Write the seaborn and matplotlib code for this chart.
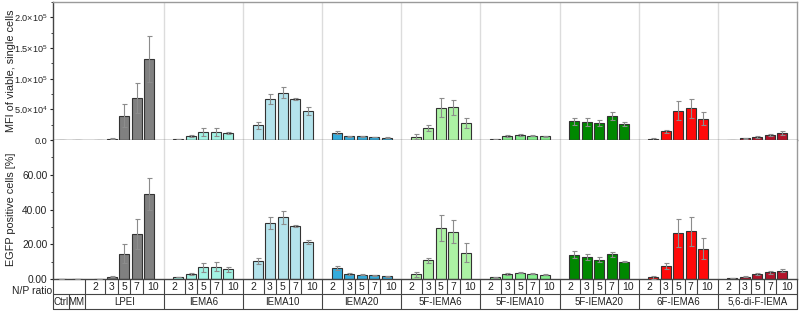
import numpy as np
import pandas as pd
import matplotlib
matplotlib.use("Agg")
import matplotlib.pyplot as plt
import seaborn as sns
from matplotlib.ticker import FixedLocator, MultipleLocator

# ---- data ----
controls = ["Ctrl", "MM"]
groups = ["LPEI", "IEMA6", "IEMA10", "IEMA20", "5F-IEMA6",
          "5F-IEMA10", "5F-IEMA20", "6F-IEMA6", "5,6-di-F-IEMA"]
np_ratios = ["2", "3", "5", "7", "10"]

group_colors = ["#808080", "#a3f3e4", "#b4e3ec", "#35acdc", "#acf2a4",
                "#84ee8c", "#008800", "#ff0a0a", "#b3142a"]
control_colors = ["#808080", "#808080"]

mfi_ctrl = [300, 300]
mfi_ctrl_err = [100, 100]
mfi_mean = [
    [500, 2000, 39600, 68400, 131900],
    [1100, 6500, 13000, 13300, 10900],
    [23900, 66800, 77100, 67300, 47200],
    [11900, 6500, 6000, 4900, 3800],
    [5400, 19500, 52700, 53200, 28200],
    [1100, 6000, 8100, 7100, 6000],
    [30400, 29900, 27700, 39100, 26100],
    [1600, 14100, 47800, 51600, 34800],
    [500, 2700, 4900, 8700, 10900],
]
mfi_err = [
    [200, 500, 18700, 25000, 38000],
    [300, 1000, 7000, 6500, 1500],
    [5400, 8400, 8700, 1500, 6500],
    [2200, 800, 600, 600, 500],
    [4300, 5400, 15000, 12000, 8100],
    [400, 1600, 1000, 800, 600],
    [5400, 6500, 5200, 7300, 3300],
    [1500, 2700, 15500, 15500, 11000],
    [200, 500, 1000, 1500, 3300],
]

egfp_ctrl = [0.3, 0.3]
egfp_ctrl_err = [0.05, 0.05]
egfp_mean = [
    [0.2, 1.5, 14.8, 25.9, 49.1],
    [1.3, 3.1, 6.9, 7.3, 5.8],
    [10.4, 32.3, 35.6, 30.6, 21.5],
    [6.5, 3.1, 2.7, 2.3, 1.7],
    [2.9, 10.8, 29.4, 27.3, 15.2],
    [1.2, 3.1, 3.7, 3.3, 2.7],
    [14.2, 12.9, 11.2, 14.4, 10.2],
    [1.2, 7.9, 26.7, 27.5, 17.5],
    [0.6, 1.5, 2.9, 4.0, 5.0],
]
egfp_err = [
    [0.1, 0.4, 5.5, 8.6, 9.1],
    [0.2, 0.4, 2.7, 2.6, 1.5],
    [1.9, 3.5, 3.8, 0.8, 1.3],
    [1.2, 0.4, 0.3, 0.3, 0.3],
    [1.5, 1.5, 7.5, 6.7, 5.4],
    [0.2, 0.8, 0.3, 0.3, 0.3],
    [1.9, 1.7, 1.5, 1.5, 0.4],
    [0.8, 1.7, 7.9, 8.3, 6.0],
    [0.1, 0.3, 0.6, 0.8, 0.8],
]

mfi_ticks = [0, 5e4, 1e5, 1.5e5, 2e5]
mfi_ticklabels = ["0.0", "5.0×10$^{4}$", "1.0×10$^{5}$",
                  "1.5×10$^{5}$", "2.0×10$^{5}$"]
egfp_ticks = [0, 20, 40, 60]
egfp_ticklabels = ["0.00", "20.00", "40.00", "60.00"]

# ---- layout ----
BAR_STEP = 0.79      # spacing of bars inside a group (slot units)
GROUP_SLOTS = 5
FIRST_GROUP = 2      # Ctrl and MM occupy slots 0 and 1
XMIN, XMAX = -0.5, FIRST_GROUP + GROUP_SLOTS * len(groups) - 0.5
TEXT = "#222222"
EDGE = "#333333"
GRID = "#dcdcdc"


def group_center(g):
    return FIRST_GROUP + GROUP_SLOTS * g + (GROUP_SLOTS - 1) / 2


def bar_positions(g):
    c = group_center(g)
    return [round(c + (k - 2) * BAR_STEP, 4) for k in range(len(np_ratios))]


def build_frame(ctrl, ctrl_err, mean, err):
    rows = []
    for i, name in enumerate(controls):
        rows.append({"x": float(i), "value": ctrl[i], "err": ctrl_err[i], "label": name})
    for g, name in enumerate(groups):
        for k, xpos in enumerate(bar_positions(g)):
            rows.append({"x": xpos, "value": mean[g][k], "err": err[g][k], "label": name})
    return pd.DataFrame(rows)


sns.set_style("ticks")
plt.rcParams["font.family"] = ["Liberation Sans", "DejaVu Sans"]
plt.rcParams["mathtext.fontset"] = "custom"
plt.rcParams["mathtext.rm"] = "Liberation Sans"
plt.rcParams["mathtext.it"] = "Liberation Sans:italic"
plt.rcParams["mathtext.bf"] = "Liberation Sans:bold"

palette = dict(zip(controls + groups, control_colors + group_colors))
hue_order = controls + groups

fig = plt.figure(figsize=(8.0, 3.11), dpi=100)
W, H = 800, 311
left = 53 / W
width = 744 / W
ax_top = fig.add_axes([left, (H - 140) / H, width, 138 / H])
ax_bot = fig.add_axes([left, (H - 279.3) / H, width, 139.3 / H])
ax_tab = fig.add_axes([left, (H - 309) / H, width, 29.7 / H])

panels = [
    (ax_top, build_frame(mfi_ctrl, mfi_ctrl_err, mfi_mean, mfi_err), (0, 2.25e5),
     mfi_ticks, mfi_ticklabels, 2.5e4, "MFI of viable, single cells", 6.6),
    (ax_bot, build_frame(egfp_ctrl, egfp_ctrl_err, egfp_mean, egfp_err), (0, 80),
     egfp_ticks, egfp_ticklabels, 10, "EGFP positive cells [%]", 7.3),
]

for ax, df, ylim, ticks, ticklabels, minor, ylabel, tsize in panels:
    for g in range(len(groups) - 1):
        ax.axvline(FIRST_GROUP + GROUP_SLOTS * (g + 1) - 0.5, color=GRID, lw=1.0, zorder=0)
    sns.barplot(data=df, x="x", y="value", hue="label", hue_order=hue_order,
                palette=palette, saturation=1, native_scale=True, dodge=False,
                errorbar=None, width=0.8, edgecolor=EDGE, linewidth=0.8,
                legend=False, ax=ax, zorder=2)
    ax.errorbar(df["x"], df["value"], yerr=df["err"], fmt="none",
                ecolor="#8c8c8c", elinewidth=0.8, capsize=1.8, capthick=0.8, zorder=3)
    ax.set_xlim(XMIN, XMAX)
    ax.set_ylim(*ylim)
    ax.yaxis.set_major_locator(FixedLocator(ticks))
    ax.set_yticklabels(ticklabels)
    ax.yaxis.set_minor_locator(MultipleLocator(minor))
    ax.tick_params(axis="y", which="major", length=2.5, width=0.8, pad=1.5,
                   labelsize=tsize, colors=TEXT)
    ax.tick_params(axis="y", which="minor", length=1.5, width=0.6, colors=TEXT)
    ax.set_xticks([])
    ax.set_xlabel("")
    ax.set_ylabel(ylabel, fontsize=7.8, color=TEXT)
    ax.yaxis.set_label_coords(-0.05, 0.5)
    for side in ["left", "bottom"]:
        ax.spines[side].set_color("#444444")
        ax.spines[side].set_linewidth(1.0)
    for side in ["top", "right"]:
        ax.spines[side].set_color("#9a9a9a")
        ax.spines[side].set_linewidth(1.0)

ax_bot.spines["top"].set_visible(False)

# ---- N/P ratio table under the bottom panel ----
ax_tab.set_xlim(XMIN, XMAX)
ax_tab.set_ylim(0, 2)
ax_tab.axis("off")
line_kw = dict(color="#444444", lw=0.8, clip_on=False)
for yy in [0, 1]:
    ax_tab.plot([XMIN, XMAX], [yy, yy], **line_kw)
ax_tab.plot([XMIN, XMIN], [0, 2], **line_kw)
ax_tab.plot([XMAX, XMAX], [0, 2], **line_kw)

# controls: one empty cell on the ratio row, one cell each on the name row
ax_tab.plot([0.5, 0.5], [0, 1], **line_kw)
ax_tab.plot([FIRST_GROUP - 0.5] * 2, [0, 2], **line_kw)
for i, name in enumerate(controls):
    ax_tab.text(i, 0.5, name, ha="center", va="center", fontsize=7, color=TEXT)

for g, name in enumerate(groups):
    lo = FIRST_GROUP + GROUP_SLOTS * g - 0.5
    hi = lo + GROUP_SLOTS
    xs = bar_positions(g)
    edges = [lo] + [(xs[k] + xs[k + 1]) / 2 for k in range(len(xs) - 1)] + [hi]
    for e in edges[1:-1]:
        ax_tab.plot([e, e], [1, 2], **line_kw)
    ax_tab.plot([hi, hi], [0, 2], **line_kw)
    for k, r in enumerate(np_ratios):
        ax_tab.text((edges[k] + edges[k + 1]) / 2, 1.5, r, ha="center", va="center",
                    fontsize=7.5, color=TEXT)
    ax_tab.text((lo + hi) / 2, 0.5, name, ha="center", va="center", fontsize=7, color=TEXT)

fig.text(32 / W, (H - 291) / H, "N/P ratio", ha="center", va="center",
         fontsize=7.5, color=TEXT)

fig.savefig("out.png", dpi=100)
